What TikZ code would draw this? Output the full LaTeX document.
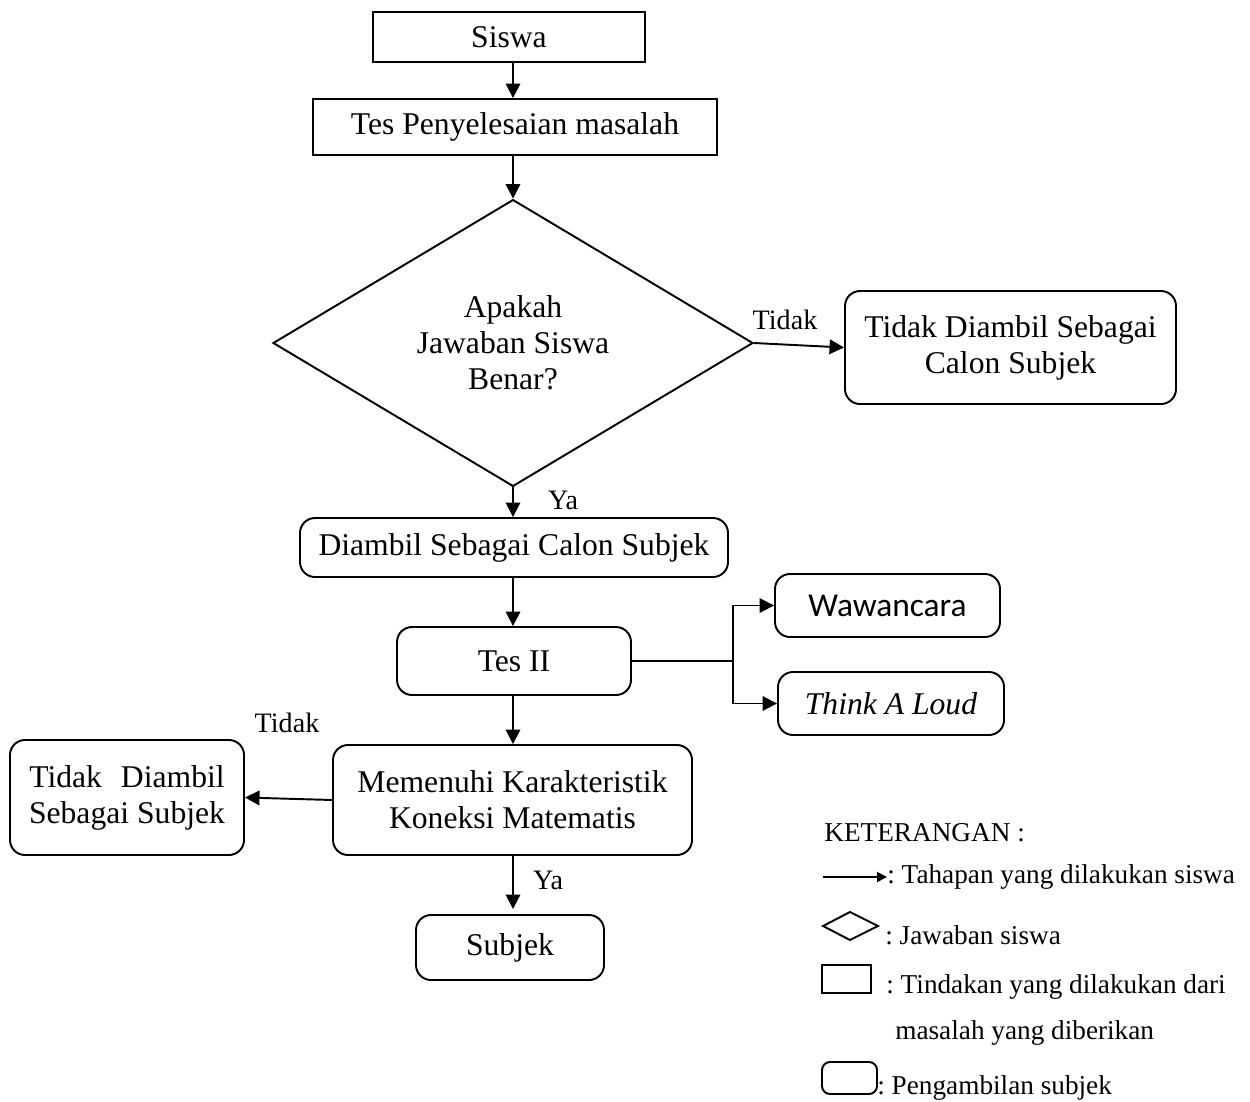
\documentclass[tikz,border=0pt]{standalone}
\usepackage{fontspec}
\setmainfont{Liberation Serif}
\newfontfamily\calibri{Carlito}
\frenchspacing
\usetikzlibrary{shapes.geometric,arrows.meta}
\tikzset{
  box/.style={draw, line width=1.1pt, rectangle, inner sep=0pt, align=center,
    font=\fontsize{18}{20.5}\selectfont},
  rbox/.style={box, rounded corners=3mm},
  decision/.style={box, diamond, minimum width=96mm, minimum height=56.2mm},
  arr/.style={line width=1.1pt, -{Triangle[length=2.9mm,width=2.9mm]}},
  lbl/.style={inner sep=0pt, font=\fontsize{16}{18}\selectfont},
  legtxt/.style={inner sep=0pt, anchor=west, font=\fontsize{15.5}{18}\selectfont},
}
\begin{document}
\begin{tikzpicture}[x=0.2mm,y=-0.2mm]
    \useasboundingbox (0,0) rectangle (1250,1101);

    % kotak alur utama
    \node[box, minimum width=54.4mm, minimum height=10mm] (siswa) at (509,37) {Siswa};
    \node[box, minimum width=80.8mm, minimum height=11.2mm] (tes) at (515,127) {Tes Penyelesaian masalah};
    \node[decision] (jawab) at (513,343) {Apakah\\Jawaban Siswa\\Benar?};
    \node[rbox, minimum width=66.2mm, minimum height=22.6mm] (calon) at (1010.5,347.5) {Tidak Diambil Sebagai\\Calon Subjek};
    \node[rbox, minimum width=85.6mm, minimum height=11.8mm] (diambil) at (514,547.5) {Diambil Sebagai Calon Subjek};
    \node[rbox, minimum width=46.8mm, minimum height=13.6mm] (tes2) at (514,661) {Tes II};
    \node[rbox, minimum width=45mm, minimum height=12.6mm, font=\calibri\fontsize{19}{22}\selectfont] (wawan) at (887.5,605.5) {Wawancara};
    \node[rbox, minimum width=45.2mm, minimum height=12.6mm] (think) at (891,703.5) {\textit{Think A Loud}};
    \node[rbox, minimum width=71.8mm, minimum height=22mm] (koneksi) at (512.5,800) {Memenuhi Karakteristik\\Koneksi Matematis};
    \node[rbox, minimum width=46.8mm, minimum height=23mm] (tolak) at (127,797.5) {Tidak\hspace{0.6em}Diambil\\Sebagai Subjek};
    \node[rbox, minimum width=37.6mm, minimum height=13mm] (subjek) at (510,947.5) {Subjek};
    \coordinate (cabang) at (733,661);

    % panah
    \draw[arr] (siswa.south -| jawab) -- (tes.north -| jawab);
    \draw[arr] (tes.south -| jawab) -- (jawab.north);
    \draw[arr] (jawab.east) -- (calon.west);
    \draw[arr] (jawab.south) -- (diambil.north -| jawab);
    \draw[arr] (diambil.south -| jawab) -- (tes2.north -| jawab);
    \draw[line width=1.1pt] (tes2.east) -- (cabang);
    \draw[arr] (cabang) |- (wawan.west);
    \draw[arr] (cabang) |- (think.west);
    \draw[arr] (tes2.south -| jawab) -- (koneksi.north -| jawab);
    \draw[arr] (koneksi.west) -- (tolak.east);
    \draw[arr] (koneksi.south -| jawab) -- ([yshift=1mm]subjek.north -| jawab);

    % label
    \node[lbl] (tidak1) at (785,320) {Tidak};
    \node[lbl] (ya1) at (563,500) {Ya};
    \node[lbl] (tidak2) at (287,723) {Tidak};
    \node[lbl] (ya2) at (548,880) {Ya};

    % keterangan
    \node[legtxt] (ket) at (824,833) {KETERANGAN :};
    \coordinate (la) at (823,877);
    \coordinate (lb) at (887,877);
    \draw[line width=1.1pt, -{Triangle[length=2mm,width=2mm]}] (la) -- (lb);
    \node[legtxt] (k1) at (887,877) {: Tahapan yang dilakukan siswa};
    \draw[line width=1.1pt] (823,926) -- (850,912) -- (878,926) -- (850,940) -- cycle;
    \node[legtxt] (k2) at (885,935) {: Jawaban siswa};
    \draw[line width=1.1pt] (822,965) rectangle (871,993);
    \node[legtxt] (k3) at (886,987) {: Tindakan yang dilakukan dari};
    \node[legtxt] (k4) at (895,1033) {masalah yang diberikan};
    \draw[line width=1.1pt, rounded corners=1.6mm] (822,1062) rectangle (877,1094);
    \node[legtxt] (k5) at (877,1088) {: Pengambilan subjek};
\end{tikzpicture}
\end{document}
